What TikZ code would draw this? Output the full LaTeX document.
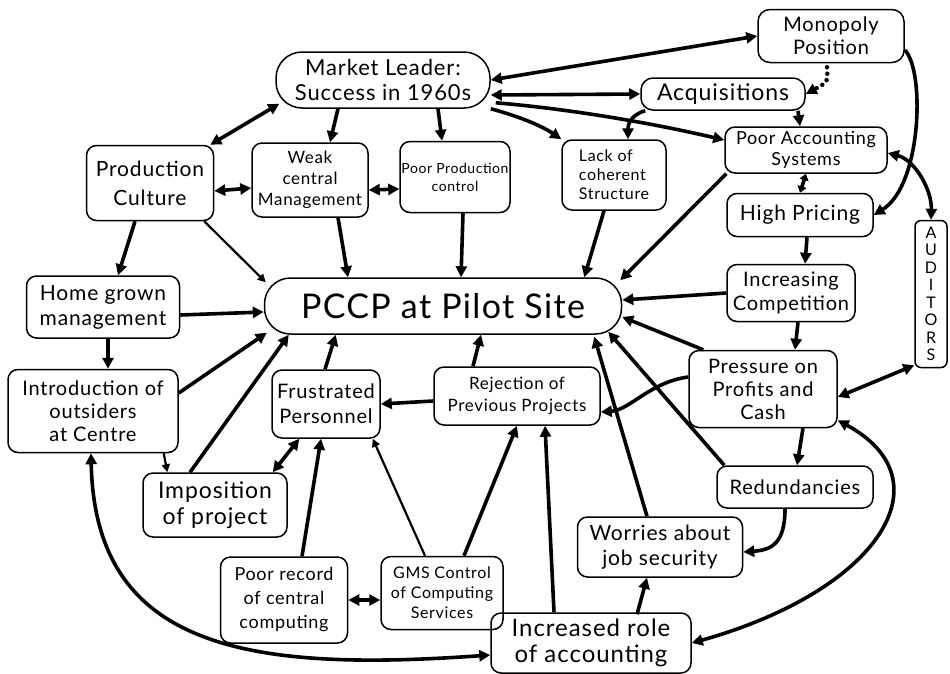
\documentclass[tikz,border=0pt]{standalone}
\usepackage{fontspec}
\setmainfont{Lato}[LetterSpace=4]
\usetikzlibrary{arrows.meta,calc}
\newcommand{\fsz}[2]{\fontsize{#1}{#2}\selectfont}
\begin{document}
\begin{tikzpicture}[x=1pt,y=-1pt,
 box/.style={draw, line width=1.5pt, rounded corners=10pt, align=center, inner sep=1pt},
 con/.style={line width=3.6pt, -{Triangle[length=11pt,width=11pt]}},
 bicon/.style={line width=3.6pt, {Triangle[length=11pt,width=11pt]}-{Triangle[length=11pt,width=11pt]}},
 shortbicon/.style={line width=3.6pt, {Triangle[length=6.5pt,width=9pt]}-{Triangle[length=6.5pt,width=9pt]}},
 thincon/.style={line width=2.2pt, -{Triangle[length=8pt,width=8pt]}},
 dotcon/.style={line width=4.5pt, line cap=round, dash pattern=on 0pt off 6.5pt, -{Triangle[length=11pt,width=11pt]}}]
\fill[white] (0,0) rectangle (950,673);
\useasboundingbox (0,0) rectangle (950,673);

% nodes
\node[box, minimum width=214pt, minimum height=56pt, rounded corners=26pt, font=\fsz{22}{25}] (market) at (383,80) {Market Leader:\\Success in 1960s};
\node[box, minimum width=146pt, minimum height=53pt, rounded corners=12pt, font=\fsz{20}{23}] (monopoly) at (831,36) {Monopoly\\Position};
\node[box, minimum width=164pt, minimum height=32pt, rounded corners=12pt, font=\fsz{23}{25}] (acq) at (723,94) {Acquisitions};
\node[box, minimum width=127pt, minimum height=75pt, font=\fsz{21}{29}] (prodcult) at (150,183) {Production\\Culture};
\node[box, minimum width=116pt, minimum height=74pt, font=\fsz{17}{21}] (weak) at (310,180) {Weak\\central\\Management};
\node[box, minimum width=110pt, minimum height=71pt, font=\fsz{14}{18}] (poorprod) at (455,177) {Poor Production\\control};
\node[box, minimum width=104pt, minimum height=70pt, align=left, font=\fsz{16}{19}] (lack) at (614,175) {Lack of\\coherent\\Structure};
\node[box, minimum width=162pt, minimum height=46pt, font=\fsz{18}{21}] (pooracc) at (806,150) {Poor Accounting\\Systems};
\node[box, minimum width=146pt, minimum height=43pt, font=\fsz{21}{24}] (highpr) at (800,215) {High Pricing};
\node[box, minimum width=32pt, minimum height=147pt, rounded corners=6pt, font=\fsz{16}{17.5}] (auditors) at (931,294) {A\\U\\D\\I\\T\\O\\R\\S};
\node[box, minimum width=153pt, minimum height=62pt, font=\fsz{21}{25}] (home) at (103,307) {Home grown\\management};
\node[box, minimum width=357pt, minimum height=56pt, rounded corners=26pt, font=\fsz{34}{36}] (pccp) at (443,306) {PCCP at Pilot Site};
\node[box, minimum width=128pt, minimum height=57pt, font=\fsz{20}{24}] (incomp) at (791,293) {Increasing\\Competition};
\node[box, minimum width=170pt, minimum height=83pt, font=\fsz{20}{23}] (intro) at (93,411) {Introduction of\\outsiders\\at Centre};
\node[box, minimum width=108pt, minimum height=68pt, font=\fsz{20}{25}] (frust) at (326,404) {Frustrated\\Personnel};
\node[box, minimum width=166pt, minimum height=58pt, font=\fsz{17}{22}] (reject) at (517,396) {Rejection of\\Previous Projects};
\node[box, minimum width=148pt, minimum height=77pt, font=\fsz{20}{23}] (pressure) at (763,389) {Pressure on\\Profits and\\Cash};
\node[box, minimum width=144pt, minimum height=64pt, font=\fsz{23}{26}] (impos) at (215,505) {Imposition\\of project};
\node[box, minimum width=156pt, minimum height=42pt, font=\fsz{20}{23}] (redund) at (795,487) {Redundancies};
\node[box, minimum width=165pt, minimum height=60pt, font=\fsz{21}{25}] (worries) at (660,547) {Worries about\\job security};
\node[box, minimum width=127pt, minimum height=86pt, font=\fsz{18}{24}] (poorrec) at (284,600) {Poor record\\of central\\computing};
\node[box, minimum width=122pt, minimum height=73pt, font=\fsz{16}{20}] (gms) at (442,593) {GMS Control\\of Computing\\Services};
\node[box, minimum width=200pt, minimum height=60pt, font=\fsz{24}{26}] (incrole) at (591,643) {Increased role\\of accounting};

% connectors
\draw[bicon] (market.east) -- (monopoly.west);
\draw[bicon] ($(market.east)+(0,15)$) -- (acq.west);
\draw[con] (market.south east) .. controls (525,118) and (545,128) .. (lack.north west);
\draw[con] ($(market.south east)+(5,-6)$) .. controls (580,110) and (660,125) .. ($(pooracc.west)+(0,-10)$);
\draw[bicon] ($(market.south west)+(4,-5)$) -- ($(prodcult.north east)+(-4,0)$);
\draw[con] ($(market.south)+(-45,0)$) -- ($(weak.north)+(20,0)$);
\draw[con] ($(market.south)+(55,0)$) -- ($(poorprod.north)+(-13,0)$);
\draw[dotcon] ($(monopoly.south)+(-4,4)$) .. controls (828,82) .. (acq.east);
\draw[con] ($(monopoly.east)+(0,14)$) .. controls (925,70) and (922,185) .. (highpr.east);
\draw[con] ($(acq.south west)+(5,0)$) .. controls (630,115) and (628,125) .. ($(lack.north)+(14,0)$);
\draw[con] ($(acq.south)+(75,0)$) -- ($(pooracc.north)+(-6,0)$);
\draw[bicon] ($(prodcult.east)+(0,8)$) -- ($(weak.west)+(0,8)$);
\draw[bicon] ($(weak.east)+(0,10)$) -- ($(poorprod.west)+(0,12)$);
\draw[con] ($(prodcult.south)+(-15,0)$) -- ($(home.north)+(15,0)$);
\draw[thincon] ($(prodcult.south east)+(-10,0)$) -- ($(pccp.north west)+(2,5)$);
\draw[con] ($(weak.south)+(28,0)$) -- ($(pccp.north)+(-95,0)$);
\draw[con] ($(poorprod.south)+(8,0)$) -- ($(pccp.north)+(18,0)$);
\draw[con] ($(lack.south)+(-10,0)$) -- ($(pccp.north east)+(-38,0)$);
\draw[con] ($(pooracc.south west)+(2,0)$) -- ($(pccp.north east)+(-2,3)$);
\draw[shortbicon] (pooracc.south) -- (highpr.north);
\draw[bicon] ($(pooracc.east)+(0,3)$) .. controls (915,160) and (932,190) .. (auditors.north);
\draw[con] ($(highpr.south)+(7,0)$) -- ($(incomp.north)+(14,0)$);
\draw[con] (incomp.west) -- ($(pccp.east)+(0,-6)$);
\draw[con] ($(incomp.south)+(7,0)$) -- ($(pressure.north)+(32,0)$);
\draw[con] ($(pressure.north west)+(15,0)$) -- ($(pccp.east)+(0,11)$);
\draw[con] ($(pressure.west)+(0,-12)$) .. controls (650,382) and (630,410) .. ($(reject.east)+(0,16)$);
\draw[bicon] ($(auditors.south west)+(0,-3)$) -- ($(pressure.east)+(0,8)$);
\draw[con] ($(pressure.south)+(40,0)$) -- ($(redund.north)+(2,0)$);
\draw[con] ($(redund.south)+(-10,0)$) .. controls (785,545) and (770,550) .. ($(worries.east)+(0,5)$);
\draw[con] ($(redund.north west)+(8,0)$) -- ($(pccp.south east)+(-14,-3)$);
\draw[con] ($(worries.north)+(-13,0)$) -- ($(pccp.south east)+(-28,2)$);
\draw[con] ($(incrole.north)+(46,2)$) -- ($(worries.south)+(-13,0)$);
\draw[con] ($(incrole.north)+(-37,0)$) -- ($(reject.south)+(28,0)$);
\draw[bicon] (incrole.east) .. controls (880,590) and (948,480) .. ($(pressure.south east)+(0,-8)$);
\draw[bicon] ($(incrole.west)+(0,12)$) .. controls (250,672) and (95,650) .. ($(intro.south)+(-2,0)$);
\draw[bicon] (poorrec.east) -- ($(gms.west)+(0,7)$);
\draw[con] ($(gms.north)+(22,0)$) -- (reject.south);
\draw[thincon] ($(gms.north)+(-17,0)$) -- ($(frust.south east)+(-8,0)$);
\draw[con] ($(poorrec.north)+(18,0)$) -- ($(frust.south)+(-5,0)$);
\draw[con] ($(home.east)+(0,8)$) -- ($(pccp.west)+(0,6)$);
\draw[con] ($(home.south)+(5,0)$) -- ($(intro.north)+(15,0)$);
\draw[con] ($(intro.east)+(0,-18)$) -- ($(pccp.south west)+(3,-2)$);
\draw[thincon] ($(intro.south east)+(-15,0)$) -- ($(impos.north west)+(25,0)$);
\draw[con] ($(impos.north)+(-25,0)$) -- ($(pccp.south west)+(25,0)$);
\draw[bicon] ($(impos.north east)+(-15,0)$) -- ($(frust.south west)+(28,0)$);
\draw[con] ($(frust.north)+(-1,0)$) -- ($(pccp.south west)+(72,0)$);
\draw[con] ($(reject.north)+(-44,0)$) -- ($(pccp.south)+(38,0)$);
\draw[con] ($(reject.west)+(0,5)$) -- (frust.east);
\end{tikzpicture}
\end{document}
